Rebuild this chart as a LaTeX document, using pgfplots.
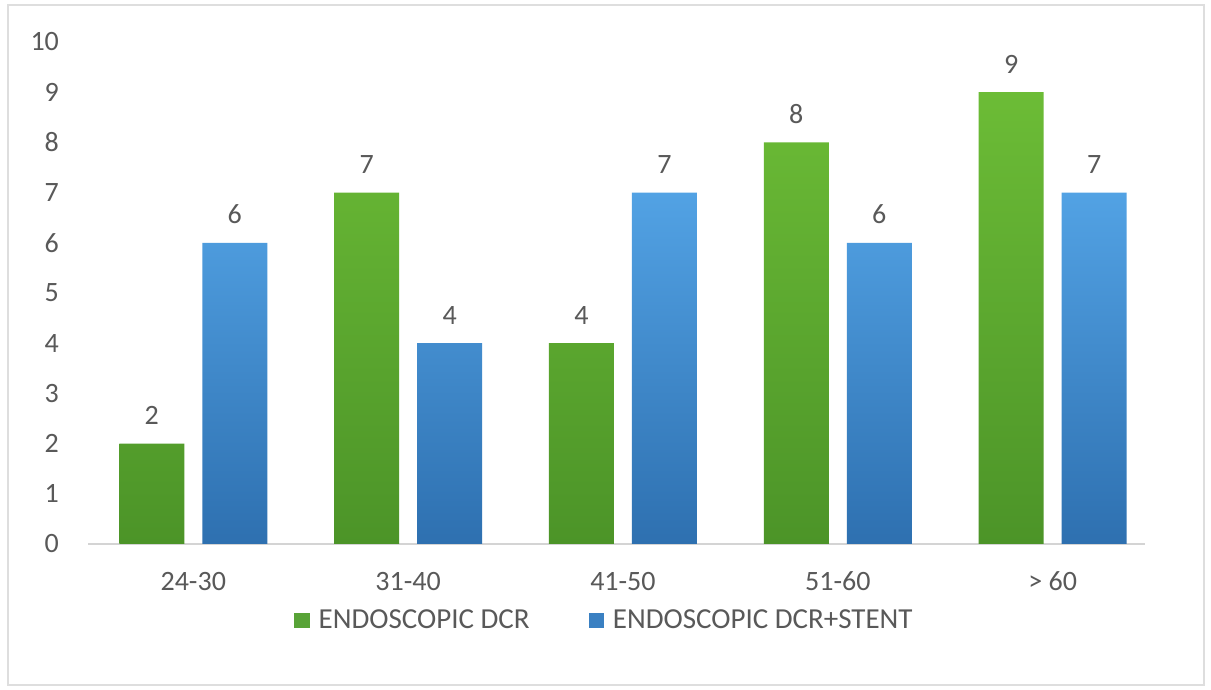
\documentclass[border=0pt]{standalone}
\usepackage{pgfplots}
\pgfplotsset{compat=1.18}
\usepackage{fontspec}
\setmainfont{Carlito}
\definecolor{txt}{HTML}{595959}
\definecolor{gtop}{HTML}{6CBC36}
\definecolor{gbot}{HTML}{4C9428}
\definecolor{btop}{HTML}{52A2E4}
\definecolor{bbot}{HTML}{2E70B0}
\definecolor{glead}{HTML}{58A337}
\definecolor{blead}{HTML}{3A80C2}
\begin{document}
\begin{tikzpicture}[x=0.5pt,y=0.5pt]
\useasboundingbox (0,0) rectangle (1211,690);
\fill[white] (0,0) rectangle (1211,690);
\draw[draw=black!13, line width=1pt] (8,5) rectangle (1204,685);
\begin{axis}[
  at={(44pt,73pt)}, anchor=south west,
  scale only axis, width=528.5pt, height=251pt,
  ymin=0, ymax=10, xmin=-0.49, xmax=4.43,
  ybar=9pt, bar width=32.5pt,
  xtick={0,1,2,3,4}, xticklabels={24-30,31-40,41-50,51-60,> 60},
  ytick={0,1,...,10},
  axis x line=bottom, axis y line=left,
  x axis line style={draw=black!17, line width=0.9pt, -},
  y axis line style={draw=none},
  major tick length=0pt,
  /pgf/number format/assume math mode=true,
  tick label style={font=\fontsize{14}{16}\selectfont, text=txt},
  yticklabel style={xshift=-11pt},
  xticklabel style={yshift=-10.5pt},
  nodes near coords,
  nodes near coords style={font=\fontsize{14}{16}\selectfont, text=txt, yshift=6pt},
  legend style={at={(0.492,-0.152)}, anchor=center, draw=none, fill=none,
    font=\fontsize{14.5}{16}\selectfont, text=txt, legend columns=2,
    /tikz/every even column/.append style={column sep=25pt},
    /tikz/every odd column/.append style={column sep=0pt},
    nodes={inner xsep=4.5pt}},
  clip=false,
]
\addplot[draw=none, top color=gtop, bottom color=gbot,
  legend image code/.code={\pgfsetfillcolor{glead}\pgfpathrectangle{\pgfpoint{0pt}{-3.8pt}}{\pgfpoint{7.6pt}{7.6pt}}\pgfusepath{fill}}]
  coordinates {(0,2) (1,7) (2,4) (3,8) (4,9)};
\addplot[draw=none, top color=btop, bottom color=bbot,
  legend image code/.code={\pgfsetfillcolor{blead}\pgfpathrectangle{\pgfpoint{0pt}{-3.8pt}}{\pgfpoint{7.6pt}{7.6pt}}\pgfusepath{fill}}]
  coordinates {(0,6) (1,4) (2,7) (3,6) (4,7)};
\legend{ENDOSCOPIC DCR, ENDOSCOPIC DCR+STENT}
\end{axis}
\end{tikzpicture}
\end{document}
